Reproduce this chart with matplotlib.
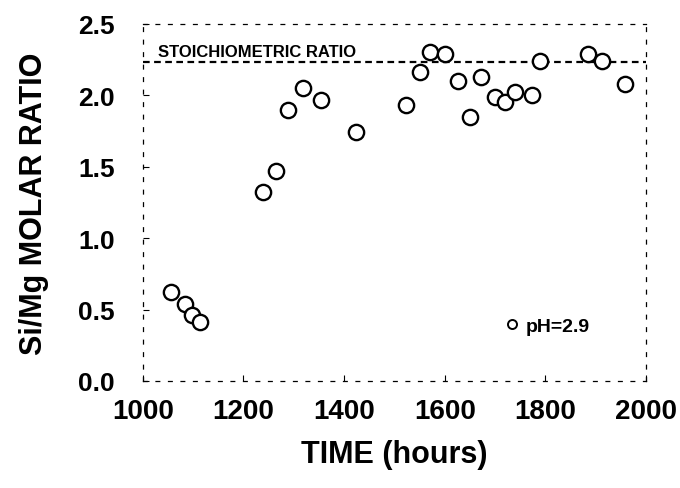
"""
Si/Mg molar ratio vs time, pH = 2.9, with stoichiometric ratio reference line.
"""
import matplotlib
matplotlib.use("Agg")
import matplotlib.pyplot as plt
from matplotlib.lines import Line2D

# ---------------------------------------------------------------------------
# Data
# ---------------------------------------------------------------------------
time_h = [1057, 1083, 1097, 1113, 1238, 1264, 1289, 1318, 1355, 1423,
          1524, 1551, 1571, 1600, 1627, 1650, 1673, 1700, 1720, 1740,
          1773, 1789, 1885, 1912, 1958]
si_mg  = [0.62, 0.54, 0.46, 0.41, 1.32, 1.47, 1.90, 2.05, 1.97, 1.74,
          1.93, 2.16, 2.30, 2.29, 2.10, 1.85, 2.13, 1.99, 1.95, 2.02,
          2.00, 2.24, 2.29, 2.24, 2.08]
STOICH = 2.23

x_ticks = [1000, 1200, 1400, 1600, 1800, 2000]
y_ticks = [0.0, 0.5, 1.0, 1.5, 2.0, 2.5]

plt.rcParams["font.family"] = ["Liberation Sans", "DejaVu Sans"]
plt.rcParams["font.weight"] = "bold"

# ---------------------------------------------------------------------------
# Plot
# ---------------------------------------------------------------------------
fig = plt.figure(figsize=(6.8, 4.89), dpi=100)
ax = fig.add_axes([0.210, 0.219, 0.740, 0.730])

ax.plot(time_h, si_mg, linestyle="none", marker="o", markersize=11,
        markerfacecolor="white", markeredgecolor="black", markeredgewidth=1.7,
        zorder=3)
ax.axhline(STOICH, color="black", linestyle=(0, (3, 2)), linewidth=1.6, zorder=2)
ax.text(1030, 2.31, "STOICHIOMETRIC RATIO", fontsize=12, fontweight="bold",
        va="center", ha="left")

ax.set_xlim(1000, 2000)
ax.set_ylim(0, 2.5)
ax.set_xticks(x_ticks)
ax.set_yticks(y_ticks)
ax.set_xticklabels([str(v) for v in x_ticks], fontsize=20, fontweight="bold")
ax.set_yticklabels([f"{v:.1f}" for v in y_ticks], fontsize=19, fontweight="bold")
ax.tick_params(axis="x", direction="in", length=4, width=0.8, pad=12)
ax.tick_params(axis="y", direction="in", length=4, width=0.8, pad=20)

ax.set_xlabel("TIME (hours)", fontsize=22, fontweight="bold", labelpad=11)
ax.set_ylabel("Si/Mg MOLAR RATIO", fontsize=22, fontweight="bold", labelpad=21)

for sp in ax.spines.values():
    sp.set_linestyle((0, (3, 7)))
    sp.set_linewidth(0.9)

handle = Line2D([], [], linestyle="none", marker="o", markersize=6.5,
                markerfacecolor="white", markeredgecolor="black",
                markeredgewidth=1.4)
leg = ax.legend([handle], ["pH=2.9"], loc="center left",
                bbox_to_anchor=(0.718, 0.154), frameon=False,
                handlelength=0.8, handletextpad=0.3, borderpad=0,
                borderaxespad=0, prop={"size": 14, "weight": "bold"})

fig.savefig("out.png", dpi=100)
plt.close(fig)
